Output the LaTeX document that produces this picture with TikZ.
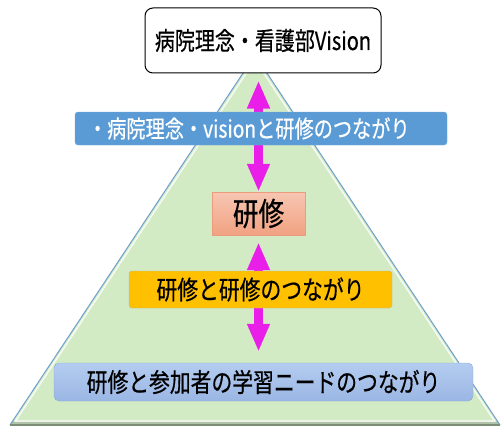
\documentclass[tikz,border=0pt]{standalone}
\usepackage{fontspec}
\newfontfamily\jp[FakeBold=0.6]{Noto Sans CJK JP}
\usetikzlibrary{arrows.meta}
\pgfdeclarelayer{bg}
\pgfdeclarelayer{mid}
\pgfsetlayers{bg,mid,main}
\definecolor{trifill}{HTML}{D3EBC4}
\definecolor{triedge}{HTML}{6F9FD0}
\definecolor{mag}{HTML}{E91EE9}
\definecolor{bluebox}{HTML}{5B9BD5}
\definecolor{orangebox}{HTML}{FFC000}
\definecolor{kentop}{HTML}{F7C6B2}
\definecolor{kenbot}{HTML}{F1A282}
\definecolor{kenedge}{HTML}{EB9C7C}
\definecolor{needtop}{HTML}{B4CCF0}
\definecolor{needbot}{HTML}{9AB6E3}
\definecolor{neededge}{HTML}{8BACDB}
\newcommand{\jt}[2]{\scalebox{0.8}[1]{\jp\fontsize{#1}{#1}\selectfont #2}}
\tikzset{
  boxbase/.style={inner sep=0pt, align=center},
  dblarrow/.style={draw=mag, line width=9pt,
    {Triangle[length=28pt,width=21pt]}-{Triangle[length=28pt,width=21pt]}},
}
\begin{document}
\begin{tikzpicture}[x=1pt,y=-1pt]
\useasboundingbox (0,0) rectangle (501,428);

% nodes
\node[boxbase, draw=black, line width=1pt, fill=white, rounded corners=8pt,
      minimum width=236pt, minimum height=65pt] (top) at (263,40.5)
      {\jt{25}{病院理念・看護部Vision}};
\node[boxbase, draw=bluebox!85!white, fill=bluebox, rounded corners=3pt,
      minimum width=372pt, minimum height=33pt, inner xsep=13pt,
      text width=346pt, align=left, text=white] (vis) at (261,128.5)
      {\jt{24}{・病院理念・visionと研修のつながり}};
\node[boxbase, draw=kenedge, top color=kentop, bottom color=kenbot,
      minimum width=93pt, minimum height=43pt] (ken) at (258.5,213.5)
      {\jt{32}{研修}};
\node[boxbase, draw=gray!60, fill=orangebox, rounded corners=3pt,
      minimum width=263pt, minimum height=37pt] (link) at (260.5,289.5)
      {\jt{26}{研修と研修のつながり}};
\node[boxbase, draw=neededge, top color=needtop, bottom color=needbot,
      rounded corners=5pt, minimum width=419pt, minimum height=38pt] (need) at (263.5,382)
      {\jt{26}{研修と参加者の学習ニードのつながり}};

% triangle
\begin{pgfonlayer}{bg}
  \fill[trifill] (255,55) -- (500,425) -- (10,425) -- cycle;
  \fill[trifill!80!black!90!white] (12.5,421) -- (497.5,421) -- (500,425) -- (10,425) -- cycle;
  \draw[white, line width=1.5pt, opacity=0.8] (255,60) -- (494.5,421) -- (15.5,421) -- cycle;
  \draw[triedge, line width=1pt] (255,55) -- (500,425);
  \draw[triedge, line width=1pt] (255,55) -- (10,425);
  \draw[black!40!trifill, line width=1.2pt] (10,425) -- (500,425);
\end{pgfonlayer}

% arrows
\begin{pgfonlayer}{mid}
  \draw[dblarrow, shorten <=7pt] (top.south -| ken.north) -- (ken.north);
  \draw[dblarrow, shorten <=7pt, shorten >=11pt] (ken.south) -- (need.north -| ken.south);
\end{pgfonlayer}
\end{tikzpicture}
\end{document}
